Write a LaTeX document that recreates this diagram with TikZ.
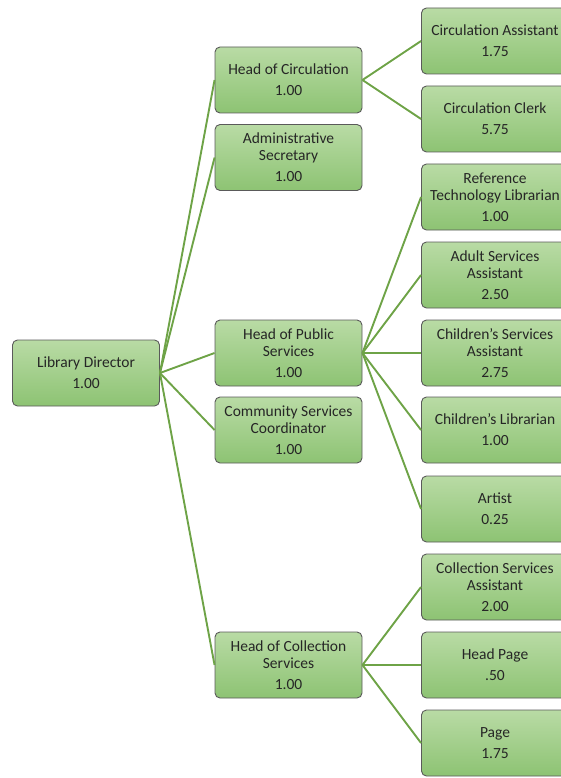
\documentclass[tikz,border=0pt]{standalone}
\usepackage{fontspec}
\setmainfont{Carlito}
\definecolor{gtop}{HTML}{B9DBA5}
\definecolor{gbot}{HTML}{8DC373}
\definecolor{boxborder}{HTML}{5A5A5A}
\definecolor{textc}{HTML}{262626}
\definecolor{linec}{HTML}{6EA347}
\begin{document}
\begin{tikzpicture}[x=1pt,y=-1pt,
  box/.style={draw=boxborder, line width=0.9pt, rounded corners=5pt, top color=gtop, bottom color=gbot,
    minimum width=147pt, minimum height=66pt, align=center, inner sep=1pt,
    font=\fontsize{15.5}{17}\selectfont, text=textc},
  conn/.style={draw=linec, line width=1.9pt}]
\useasboundingbox (0,0) rectangle (561,778);
\clip (0,0) rectangle (561,778);
% root
\node[box] (ld) at (86,373) {Library Director\\[4pt]1.00};
% middle column
\node[box] (hc) at (288.5,80) {Head of Circulation\\[4pt]1.00};
\node[box] (as) at (288.5,157.5) {Administrative\\Secretary\\[4pt]1.00};
\node[box] (hp) at (288.5,353) {Head of Public\\Services\\[4pt]1.00};
\node[box] (cs) at (288.5,430) {Community Services\\Coordinator\\[4pt]1.00};
\node[box] (hcs) at (288.5,665) {Head of Collection\\Services\\[4pt]1.00};
% right column
\node[box] (ca) at (495,41) {Circulation Assistant\\[4pt]1.75};
\node[box] (cc) at (495,119) {Circulation Clerk\\[4pt]5.75};
\node[box] (rt) at (495,197) {Reference\\Technology Librarian\\[4pt]1.00};
\node[box] (asa) at (495,275) {Adult Services\\Assistant\\[4pt]2.50};
\node[box] (csa) at (495,353) {Children's Services\\Assistant\\[4pt]2.75};
\node[box] (cl) at (495,430) {Children's Librarian\\[4pt]1.00};
\node[box] (ar) at (495,509) {Artist\\[4pt]0.25};
\node[box] (cola) at (495,587) {Collection Services\\Assistant\\[4pt]2.00};
\node[box] (hpg) at (495,665) {Head Page\\[4pt].50};
\node[box] (pg) at (495,743) {Page\\[4pt]1.75};
% connectors
\foreach \t in {hc,as,hp,cs,hcs} \draw[conn] (ld.east) -- (\t.west);
\foreach \t in {ca,cc} \draw[conn] (hc.east) -- (\t.west);
\foreach \t in {rt,asa,csa,cl,ar} \draw[conn] (hp.east) -- (\t.west);
\foreach \t in {cola,hpg,pg} \draw[conn] (hcs.east) -- (\t.west);
\end{tikzpicture}
\end{document}
